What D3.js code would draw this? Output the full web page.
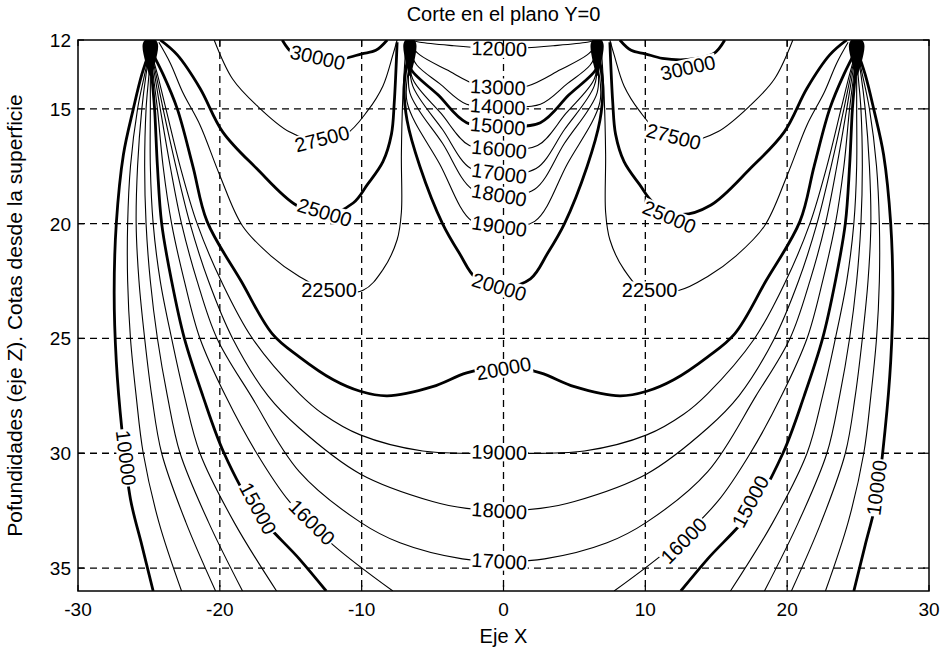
<!DOCTYPE html>
<html>
<head>
<meta charset="utf-8">
<title>Corte en el plano Y=0</title>
<script src="https://d3js.org/d3.v7.min.js"></script>
<style>
body { margin: 0; background: #fff; }
text { font-family: 'Liberation Sans', Arial, sans-serif; fill: #000; }
</style>
</head>
<body>
<div id="chart"></div>
<script>
// axis ticks
var xTicks = [-30, -20, -10, 0, 10, 20, 30];
var zTicks = [12, 15, 20, 25, 30, 35];
var thickLevels = [10000, 15000, 20000, 25000, 30000];
// x of the points where the contours pile up at the surface
var sources = [-24.9, -6.6, 6.6, 24.9];

// left halves, [x, z]; the field is symmetric about x = 0
// lines that end on the left (mirrored copy drawn on the right)
var sideLines = [
  {level: 10000, pts: [[-24.9,12.4],[-25.5,13.5],[-26.1,15],[-26.8,17],[-27.3,20],[-27.45,23],[-27.3,26],[-26.9,29],[-26.3,32],[-25.5,34],[-24.7,36]]},
  {level: 11000, pts: [[-24.9,12.4],[-25.3,13.5],[-25.8,15],[-26.3,17.5],[-26.5,20],[-26.5,22.5],[-26.3,25],[-25.9,27.5],[-25.4,30],[-24.3,33],[-22.7,36]]},
  {level: 12000, pts: [[-24.9,12.4],[-25.2,13.5],[-25.5,15],[-25.8,17.5],[-25.9,20],[-25.7,22.5],[-25.3,25],[-24.8,27.5],[-24.1,30],[-22.4,33],[-20.3,36]]},
  {level: 13000, pts: [[-24.9,12.4],[-25.0,13.5],[-25.2,15],[-25.3,17.5],[-25.2,20],[-24.9,22.5],[-24.4,25],[-23.7,27.5],[-22.8,30],[-20.8,33],[-18.4,36]]},
  {level: 14000, pts: [[-24.9,12.4],[-24.9,13.5],[-24.9,15],[-24.9,17.5],[-24.7,20],[-24.2,22.5],[-23.4,25],[-22.5,27.5],[-21.4,30],[-19.0,33],[-16.0,36]]},
  {level: 15000, pts: [[-24.9,12.4],[-24.8,13.5],[-24.6,15],[-24.4,17.5],[-24.1,20],[-23.4,22.5],[-22.5,25],[-21.2,27.5],[-19.7,30],[-17.5,32.5],[-14.4,34.6],[-12.5,36]]},
  {level: 16000, pts: [[-24.9,12.4],[-24.7,13.5],[-24.4,15],[-24.0,17.5],[-23.4,20],[-22.5,22.5],[-21.4,25],[-19.6,27.5],[-17.4,30],[-15.1,32.1],[-12.0,34.0],[-7.8,36]]},
  {level: 22500, pts: [[-24.3,12.1],[-23.5,13.0],[-22.6,14.3],[-21.4,15.7],[-20.0,17.9],[-18.4,20.1],[-16.4,21.4],[-14.4,22.3],[-12.4,22.9],[-9.9,22.9],[-8.5,22.0],[-7.5,20.7],[-7.2,19.5],[-7.2,17],[-7.1,14.5],[-6.9,12.4]]},
  {level: 25000, pts: [[-24.2,12.0],[-23.0,12.65],[-21.4,14.1],[-19.8,16.0],[-17.4,17.6],[-14.6,19.2],[-12.5,19.6],[-10.6,19.1],[-9.6,18.3],[-8.5,17.3],[-7.9,16.1],[-7.7,14.7],[-7.5,12.1]]},
  {level: 27500, pts: [[-20.4,12.0],[-19.1,13.7],[-17.4,14.85],[-15.1,16.0],[-13.0,16.4],[-11.1,16.1],[-9.6,15.1],[-8.5,14.0],[-7.8,12.65],[-7.5,12.0]]},
  {level: 30000, pts: [[-15.6,12.0],[-14.8,12.6],[-13.0,12.85],[-11.2,12.8],[-10.0,12.6],[-9.0,12.45],[-8.2,12.0]]}
];
// lines that cross x = 0 (joined to their mirror)
var bowlLines = [
  {level: 17000, pts: [[-24.9,12.4],[-24.6,13.5],[-24.2,15],[-23.5,17.5],[-22.7,20],[-21.6,22.5],[-20.2,25],[-17.8,27.5],[-14.4,30.8],[-10.1,33.0],[-7.3,33.9],[-2.9,34.6],[0,34.7]]},
  {level: 18000, pts: [[-24.9,12.4],[-24.5,13.5],[-24.0,15],[-23.1,17.5],[-22.1,20],[-20.8,22.5],[-19.1,25],[-16.6,27.5],[-14.4,28.9],[-10.1,30.9],[-5.0,32.1],[-2.6,32.4],[0,32.5]]},
  {level: 19000, pts: [[-24.9,12.4],[-24.4,13.5],[-23.8,15],[-22.8,17.5],[-21.6,20],[-19.9,22.5],[-17.7,25],[-14.4,27.4],[-12.7,28.3],[-10.1,29.2],[-5.7,29.9],[0,30.0]]},
  {level: 20000, pts: [[-24.9,12.4],[-24.0,13.5],[-23.0,15],[-21.9,17.5],[-20.9,19.9],[-18.5,22.5],[-16.3,24.8],[-14.4,25.8],[-12.0,26.8],[-10.1,27.3],[-8.2,27.5],[-5.0,27.1],[-2.6,26.5],[0,26.2]]},
  {level: 12000, pts: [[-6.6,12.0],[-5.9,12.1],[-3.5,12.25],[-1.2,12.35],[0,12.37]]},
  {level: 13000, pts: [[-6.6,12.2],[-5.9,12.65],[-4.0,13.3],[-1.7,14.0],[0,14.05]]},
  {level: 14000, pts: [[-6.6,12.5],[-6.1,13.1],[-4.5,13.9],[-2.6,14.8],[0,14.9]]},
  {level: 15000, pts: [[-6.6,12.6],[-6.6,13.2],[-4.6,14.4],[-2.6,15.6],[0,15.75]]},
  {level: 16000, pts: [[-6.6,12.7],[-6.4,13.7],[-4.4,15.2],[-2.4,16.6],[0,16.75]]},
  {level: 17000, pts: [[-6.6,12.8],[-6.4,14.0],[-4.3,15.9],[-2.3,17.6],[0,17.8]]},
  {level: 18000, pts: [[-6.6,12.9],[-6.6,14.3],[-4.3,16.5],[-2.2,18.5],[0,18.75]]},
  {level: 19000, pts: [[-6.6,13.0],[-6.8,14.7],[-4.5,17.4],[-2.2,19.9],[0,20.1]]},
  {level: 20000, pts: [[-6.6,12.3],[-7.0,14.0],[-6.8,15.5],[-5.9,17.5],[-4.3,20.0],[-3.1,21.3],[-1.9,22.4],[0,22.75]]}
];
// contour labels: level and where it sits [x, z]
var labels = [
  [12000,-0.3,12.37],[13000,-0.4,14.05],[14000,-0.4,14.9],[15000,-0.4,15.75],[16000,-0.3,16.75],
  [17000,-0.3,17.8],[18000,-0.3,18.75],[19000,-0.3,20.1],[20000,-0.3,22.75],[20000,0,26.3],
  [19000,-0.3,29.95],[18000,-0.3,32.5],[17000,-0.3,34.7],
  [10000,-26.6,30.2],[15000,-17.3,32.4],[16000,-13.5,33.0],[22500,-12.3,22.9],[25000,-12.6,19.5],
  [27500,-12.8,16.3],[30000,-13.1,12.75],
  [10000,26.3,31.5],[15000,17.4,32.1],[16000,12.7,33.8],[22500,10.3,22.9],[25000,11.7,19.7],
  [27500,12.0,16.2],[30000,13.0,13.2]
];

var W = 944, H = 654;
var x = d3.scaleLinear().domain([-30, 30]).range([78, 929]);
var y = d3.scaleLinear().domain([12, 36]).range([40, 591]);

var svg = d3.select('#chart').append('svg')
    .attr('width', W).attr('height', H);
svg.append('rect').attr('width', W).attr('height', H).attr('fill', '#fff');

svg.append('clipPath').attr('id', 'plot')
  .append('rect')
    .attr('x', x(-30)).attr('y', y(12))
    .attr('width', x(30) - x(-30)).attr('height', y(36) - y(12));

// build full lines
var lines = [];
sideLines.forEach(function(l) {
  lines.push({level: l.level, pts: l.pts});
  lines.push({level: l.level, pts: l.pts.map(function(p) { return [-p[0], p[1]]; })});
});
bowlLines.forEach(function(l) {
  var back = l.pts.slice(0, -1).reverse().map(function(p) { return [-p[0], p[1]]; });
  lines.push({level: l.level, pts: l.pts.concat(back)});
});

// grid
var grid = svg.append('g').attr('clip-path', 'url(#plot)')
    .attr('stroke', '#000').attr('stroke-width', 1.3).attr('stroke-dasharray', '7,5');
grid.selectAll('.gx').data(xTicks.slice(1, -1)).enter().append('line')
    .attr('x1', function(d) { return x(d); }).attr('x2', function(d) { return x(d); })
    .attr('y1', y(12)).attr('y2', y(36));
grid.selectAll('.gz').data(zTicks.slice(1)).enter().append('line')
    .attr('y1', function(d) { return y(d); }).attr('y2', function(d) { return y(d); })
    .attr('x1', x(-30)).attr('x2', x(30));

// contours
var path = d3.line()
    .x(function(d) { return x(d[0]); })
    .y(function(d) { return y(d[1]); })
    .curve(d3.curveCatmullRom.alpha(0.5));

var plot = svg.append('g').attr('clip-path', 'url(#plot)');
plot.selectAll('.line').data(lines).enter().append('path')
    .attr('class', 'line')
    .attr('d', function(d) { return path(d.pts); })
    .attr('fill', 'none')
    .attr('stroke', '#000')
    .attr('stroke-linejoin', 'round')
    .attr('stroke-width', function(d) { return thickLevels.indexOf(d.level) >= 0 ? 2.8 : 1.1; });

// dark piles of lines at the surface points
var blob = d3.line().curve(d3.curveBasisClosed)
    .x(function(d) { return x(d[0]); }).y(function(d) { return y(d[1]); });
plot.selectAll('.src').data(sources).enter().append('path')
    .attr('d', function(s) {
      var w = Math.abs(s) > 15 ? 0.65 : 0.55;
      return blob([[s - w, 11.9], [s + w, 11.9], [s + w * 0.8, 12.6], [s + w * 0.3, 13.3], [s, 13.7], [s - w * 0.3, 13.3], [s - w * 0.8, 12.6]]);
    })
    .attr('fill', '#000');

// label angle follows the nearest piece of its own line
function labelAngle(lv, lx, lz) {
  var px = x(lx), py = y(lz), best = null, bd = Infinity;
  lines.forEach(function(l) {
    if (l.level !== lv) return;
    for (var i = 0; i < l.pts.length - 1; i++) {
      var ax = x(l.pts[i][0]), ay = y(l.pts[i][1]);
      var bx = x(l.pts[i + 1][0]), by = y(l.pts[i + 1][1]);
      var dx = bx - ax, dy = by - ay, L = dx * dx + dy * dy;
      var t = L ? Math.max(0, Math.min(1, ((px - ax) * dx + (py - ay) * dy) / L)) : 0;
      var d = Math.hypot(ax + t * dx - px, ay + t * dy - py);
      if (d < bd) { bd = d; best = [dx, dy]; }
    }
  });
  var a = Math.atan2(best[1], best[0]) * 180 / Math.PI;
  if (a > 90) a -= 180;
  if (a < -90) a += 180;
  return a;
}

var lab = svg.append('g').attr('clip-path', 'url(#plot)');
labels.forEach(function(d) {
  var g = lab.append('g')
      .attr('transform', 'translate(' + x(d[1]) + ',' + y(d[2]) + ') rotate(' + labelAngle(d[0], d[1], d[2]) + ')');
  var t = g.append('text')
      .attr('text-anchor', 'middle')
      .attr('dy', '0.36em')
      .attr('font-size', 20)
      .text(d[0]);
  var b = t.node().getBBox();
  g.insert('rect', 'text')
      .attr('x', b.x - 1).attr('y', b.y + 2)
      .attr('width', b.width + 2).attr('height', b.height - 4)
      .attr('fill', '#fff');
});

// frame and ticks
svg.append('rect')
    .attr('x', x(-30)).attr('y', y(12))
    .attr('width', x(30) - x(-30)).attr('height', y(36) - y(12))
    .attr('fill', 'none').attr('stroke', '#000').attr('stroke-width', 1.5);
var tk = svg.append('g').attr('stroke', '#000').attr('stroke-width', 1.2);
xTicks.forEach(function(d) {
  tk.append('line').attr('x1', x(d)).attr('x2', x(d)).attr('y1', y(36)).attr('y2', y(36) - 6);
  tk.append('line').attr('x1', x(d)).attr('x2', x(d)).attr('y1', y(12)).attr('y2', y(12) + 6);
});
zTicks.forEach(function(d) {
  tk.append('line').attr('y1', y(d)).attr('y2', y(d)).attr('x1', x(-30)).attr('x2', x(-30) + 6);
  tk.append('line').attr('y1', y(d)).attr('y2', y(d)).attr('x1', x(30)).attr('x2', x(30) - 6);
});

svg.selectAll('.xt').data(xTicks).enter().append('text')
    .attr('x', function(d) { return x(d); })
    .attr('y', y(36) + 25)
    .attr('text-anchor', 'middle')
    .attr('font-size', 19)
    .text(function(d) { return d; });
svg.selectAll('.zt').data(zTicks).enter().append('text')
    .attr('x', x(-30) - 7)
    .attr('y', function(d) { return y(d) + 7; })
    .attr('text-anchor', 'end')
    .attr('font-size', 19)
    .text(function(d) { return d; });

svg.append('text')
    .attr('x', (x(-30) + x(30)) / 2).attr('y', 21)
    .attr('text-anchor', 'middle').attr('font-size', 20)
    .text('Corte en el plano Y=0');
svg.append('text')
    .attr('x', (x(-30) + x(30)) / 2).attr('y', 643)
    .attr('text-anchor', 'middle').attr('font-size', 20)
    .text('Eje X');
svg.append('text')
    .attr('transform', 'translate(22,' + (y(12) + y(36)) / 2 + ') rotate(-90)')
    .attr('text-anchor', 'middle').attr('font-size', 21)
    .text('Pofundidades (eje Z). Cotas desde la superficie');
</script>
</body>
</html>
